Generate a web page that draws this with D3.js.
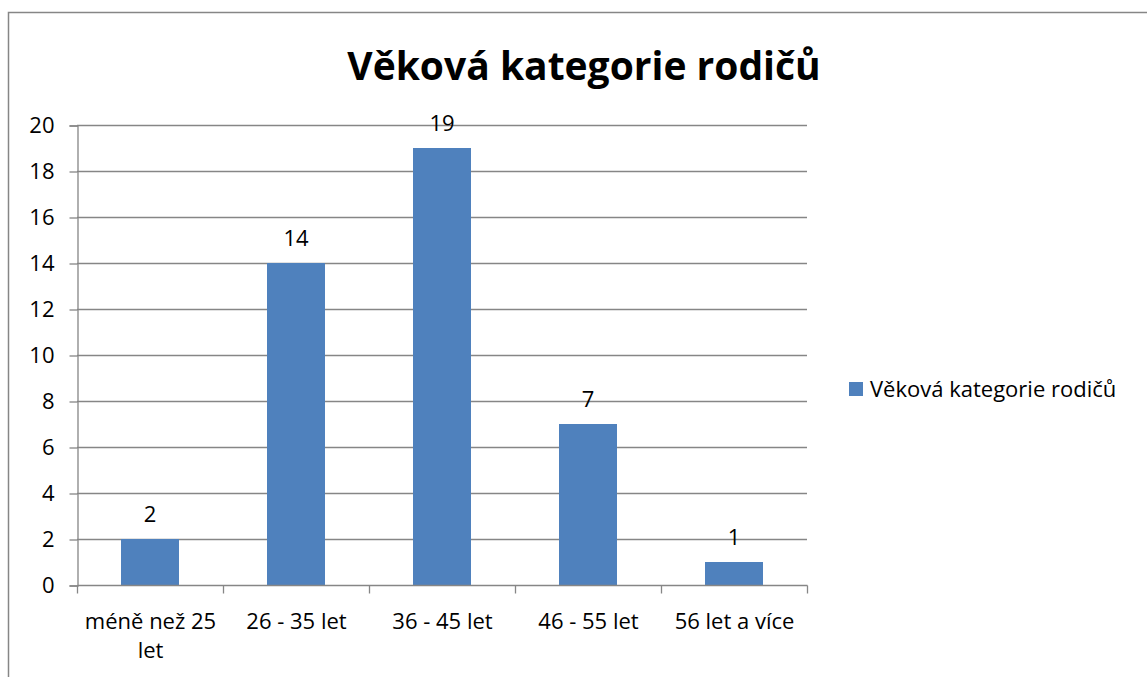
<!DOCTYPE html>
<html lang="cs">
<head>
<meta charset="UTF-8">
<script src="https://cdnjs.cloudflare.com/ajax/libs/d3/7.8.5/d3.min.js"></script>
<style>
    body { margin: 0; background: #fff; }
    svg text { font-family: "Open Sans", "Noto Sans", Arial, sans-serif; fill: #000; }
</style>
</head>
<body>
<svg id="chart" width="1147" height="677"></svg>
<script>
    const categories = [["méně než 25", "let"], ["26 - 35 let"], ["36 - 45 let"], ["46 - 55 let"], ["56 let a více"]];
    const values = [2, 14, 19, 7, 1];
    const yTicks = [0, 2, 4, 6, 8, 10, 12, 14, 16, 18, 20];
    const seriesName = "Věková kategorie rodičů";

    const svg = d3.select("#chart");
    const plot = { left: 77, right: 807, top: 125, bottom: 585 };
    const gridColor = "#868686";
    const barColor = "#4f81bd";
    const fs = "22px";

    // outer chart border
    svg.append("path")
        .attr("d", "M8.5,677 V12.5 H1147")
        .attr("fill", "none")
        .attr("stroke", gridColor)
        .attr("stroke-width", 1.5);

    svg.append("text")
        .attr("x", 584).attr("y", 80)
        .attr("text-anchor", "middle")
        .style("font-size", "39px").style("font-weight", "bold")
        .text("Věková kategorie rodičů");

    const x = d3.scaleBand()
        .domain(d3.range(values.length))
        .range([plot.left, plot.right])
        .paddingInner(0).paddingOuter(0);

    const y = d3.scaleLinear().domain([0, 20]).range([plot.bottom, plot.top]);

    // gridlines
    svg.append("g").selectAll("line")
        .data(yTicks.filter(d => d > 0))
        .enter().append("line")
        .attr("x1", plot.left).attr("x2", plot.right)
        .attr("y1", d => Math.round(y(d)) + 0.5).attr("y2", d => Math.round(y(d)) + 0.5)
        .attr("stroke", gridColor).attr("stroke-width", 1.3);

    // y axis
    const yAxis = svg.append("g")
        .attr("transform", `translate(${plot.left + 0.5},0.5)`)
        .call(d3.axisLeft(y).tickValues(yTicks).tickSize(8).tickPadding(15));
    yAxis.select(".domain").attr("stroke", gridColor).attr("stroke-width", 1.3);
    yAxis.selectAll(".tick line").attr("stroke", gridColor).attr("stroke-width", 1.3);
    yAxis.selectAll(".tick text").style("font-size", fs).attr("fill", "#000");

    // bars
    const barW = 58;
    svg.append("g").selectAll("rect")
        .data(values)
        .enter().append("rect")
        .attr("x", (d, i) => x(i) + x.bandwidth() / 2 - barW / 2)
        .attr("y", d => y(d))
        .attr("width", barW)
        .attr("height", d => y(0) - y(d))
        .attr("fill", barColor);

    // value labels
    svg.append("g").selectAll("text")
        .data(values)
        .enter().append("text")
        .attr("x", (d, i) => x(i) + x.bandwidth() / 2)
        .attr("y", d => y(d) - 17)
        .attr("text-anchor", "middle")
        .style("font-size", fs)
        .text(d => d);

    // x axis
    const xAxisG = svg.append("g").attr("transform", `translate(0.5,${plot.bottom + 0.5})`);
    xAxisG.append("line")
        .attr("x1", plot.left).attr("x2", plot.right)
        .attr("stroke", gridColor).attr("stroke-width", 1.3);
    xAxisG.selectAll("line.tick")
        .data(d3.range(values.length + 1))
        .enter().append("line")
        .attr("class", "tick")
        .attr("x1", i => i < values.length ? x(i) : plot.right)
        .attr("x2", i => i < values.length ? x(i) : plot.right)
        .attr("y1", 0).attr("y2", 8)
        .attr("stroke", gridColor).attr("stroke-width", 1.3);

    const labels = xAxisG.selectAll("text.cat")
        .data(categories)
        .enter().append("text")
        .attr("class", "cat")
        .attr("text-anchor", "middle")
        .style("font-size", fs);
    labels.selectAll("tspan")
        .data((d, i) => d.map(s => ({ s, i })))
        .enter().append("tspan")
        .attr("x", d => x(d.i) + x.bandwidth() / 2)
        .attr("y", (d, j) => 43 + j * 29)
        .text(d => d.s);

    // legend
    const legend = svg.append("g").attr("transform", "translate(849,382)");
    legend.append("rect").attr("width", 14).attr("height", 14).attr("fill", barColor);
    legend.append("text")
        .attr("x", 21).attr("y", 15)
        .style("font-size", fs)
        .text(seriesName);
</script>
</body>
</html>
